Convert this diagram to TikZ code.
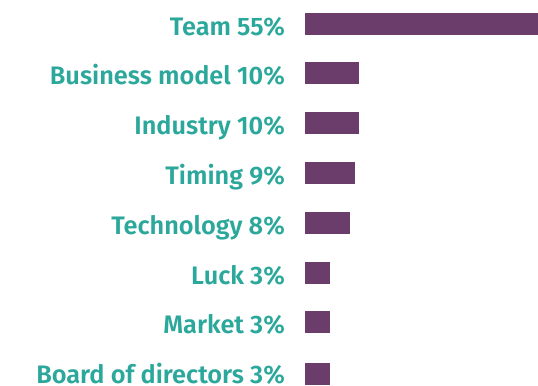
\documentclass[tikz,border=0pt]{standalone}
\usepackage{fontspec}
\setmainfont{Fira Sans}[BoldFont={Fira Sans SemiBold}]
\usepackage{xcolor}

\begin{document}
\begin{tikzpicture}[x=1bp, y=-1bp]

\definecolor{labelteal}{RGB}{43, 168, 155}
\definecolor{barpurple}{RGB}{107, 61, 106}

% Canvas
\useasboundingbox (0,0) rectangle (538,385);

\tikzset{
    factor label/.style={
        anchor=base east, inner sep=0pt,
        text=labelteal, font=\fontsize{25.4}{30}\selectfont\bfseries
    },
    factor bar/.style={
        anchor=west, inner sep=0pt, fill=barpurple,
        minimum height=22bp, minimum width=#1
    }
}

% Labels
\node[factor label] (Team) at (285, 35) {Team 55\%};
\node[factor label] (Business) at (285, 84) {Business model 10\%};
\node[factor label] (Industry) at (285, 134) {Industry 10\%};
\node[factor label] (Timing) at (285, 184) {Timing 9\%};
\node[factor label] (Technology) at (285, 234) {Technology 8\%};
\node[factor label] (Luck) at (285, 284) {Luck 3\%};
\node[factor label] (Market) at (285, 333.5) {Market 3\%};
\node[factor label] (Board) at (285, 383.5) {Board of directors 3\%};

% Bars
\node[factor bar=233bp] (TeamBar) at (305, 24) {};
\node[factor bar=54bp] (BusinessBar) at (305, 73) {};
\node[factor bar=54bp] (IndustryBar) at (305, 122.5) {};
\node[factor bar=50bp] (TimingBar) at (305, 172.5) {};
\node[factor bar=45bp] (TechnologyBar) at (305, 223) {};
\node[factor bar=25bp] (LuckBar) at (305, 273) {};
\node[factor bar=25bp] (MarketBar) at (305, 322) {};
\node[factor bar=25bp] (BoardBar) at (305, 374) {};

\end{tikzpicture}
\end{document}
